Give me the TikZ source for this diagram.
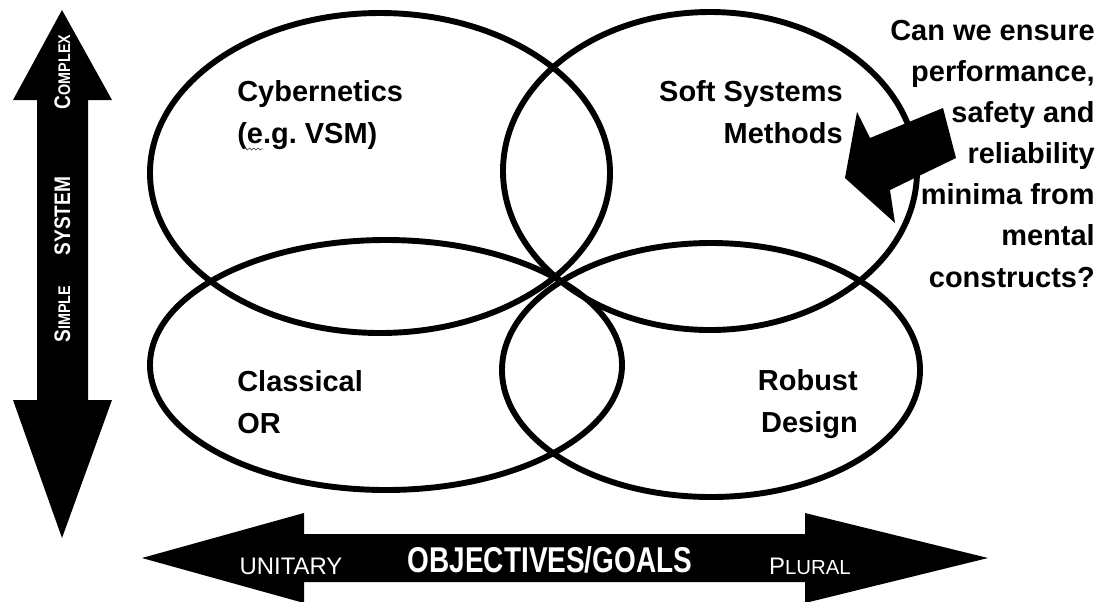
\documentclass[tikz,border=0pt]{standalone}
\usepackage{fontspec}
\setmainfont{Liberation Sans}
\usetikzlibrary{calc,decorations.pathmorphing}
\tikzset{
  ring/.style={draw=black, line width=4.2pt},
  blk/.style={fill=black, draw=none},
  lab/.style={font=\fontsize{20.6}{29.2}\selectfont\bfseries, inner sep=0pt},
  wlab/.style={text=white, inner sep=0pt, anchor=base},
  vlab/.style={wlab, rotate=90, font=\fontsize{16}{16}\selectfont\bfseries},
  squig/.style={draw=black!70, line width=0.5pt, decorate,
    decoration={snake, amplitude=0.7pt, segment length=3pt}},
}
% fake small caps: big first letter, small rest
\newcommand{\fsc}[3]{#1{\fontsize{#3}{#3}\selectfont #2}}

\begin{document}
\begin{tikzpicture}[x=0.025cm, y=-0.025cm]
  \useasboundingbox (0,0) rectangle (1107,601);

  % the four ellipses
  \draw[ring] (380,173) ellipse [x radius=230, y radius=160];
  \draw[ring] (710,171) ellipse [x radius=207, y radius=159];
  \draw[ring] (386,365) ellipse [x radius=236, y radius=125];
  \draw[ring] (711,370) ellipse [x radius=209, y radius=127];

  \node[lab, anchor=base west, align=left] (cyb) at (237,143) {Cybernetics\\(e.g.\ VSM)};
  \draw[squig] (244,149) -- (263,149);
  \node[lab, anchor=base east, align=right] (ssm) at (843,143) {Soft Systems\\Methods};
  \node[lab, anchor=base west, align=left] (cor) at (237,433) {Classical\\OR};
  \node[lab, anchor=base east, align=right] (rob) at (858,432) {Robust\\Design};

  % system axis
  \draw[blk] (62,10) -- (112,100) -- (88,100) -- (88,400) -- (112,400) -- (62,538)
    -- (13,400) -- (37,400) -- (37,100) -- (13,100) -- cycle;
  \node[vlab] (cplx) at (70,72) {\scalebox{0.85}[1]{\fsc{C}{OMPLEX}{12}}};
  \node[vlab] (sys) at (70,216) {\scalebox{0.85}[1]{SYSTEM}};
  \node[vlab] (simp) at (70,314) {\scalebox{0.85}[1]{\fsc{S}{IMPLE}{12}}};

  % objectives axis
  \draw[blk] (142,558) -- (304,513) -- (304,534) -- (805,534) -- (805,513) -- (988,558)
    -- (805,603) -- (805,582) -- (304,582) -- (304,603) -- cycle;
  \node[wlab, font=\fontsize{17}{17}\selectfont] (uni) at (291,574) {UNITARY};
  \node[wlab, font=\fontsize{25.5}{25.5}\selectfont\bfseries] (obj) at (550,572) {\scalebox{0.78}[1]{OBJECTIVES/GOALS}};
  \node[wlab, font=\fontsize{17}{17}\selectfont] (plu) at (810,574) {\fsc{P}{LURAL}{14.5}};

  % question and its arrow
  \node[lab, anchor=base east, align=right] (ask) at (1095,287)
    {Can we ensure\\performance,\\safety and\\reliability\\minima from\\mental\\constructs?};
  \draw[blk] (857,112) -- (870,138) -- (943,108) -- (956,158) -- (890,190) -- (895,223)
    -- (845,178) -- cycle;
\end{tikzpicture}
\end{document}
